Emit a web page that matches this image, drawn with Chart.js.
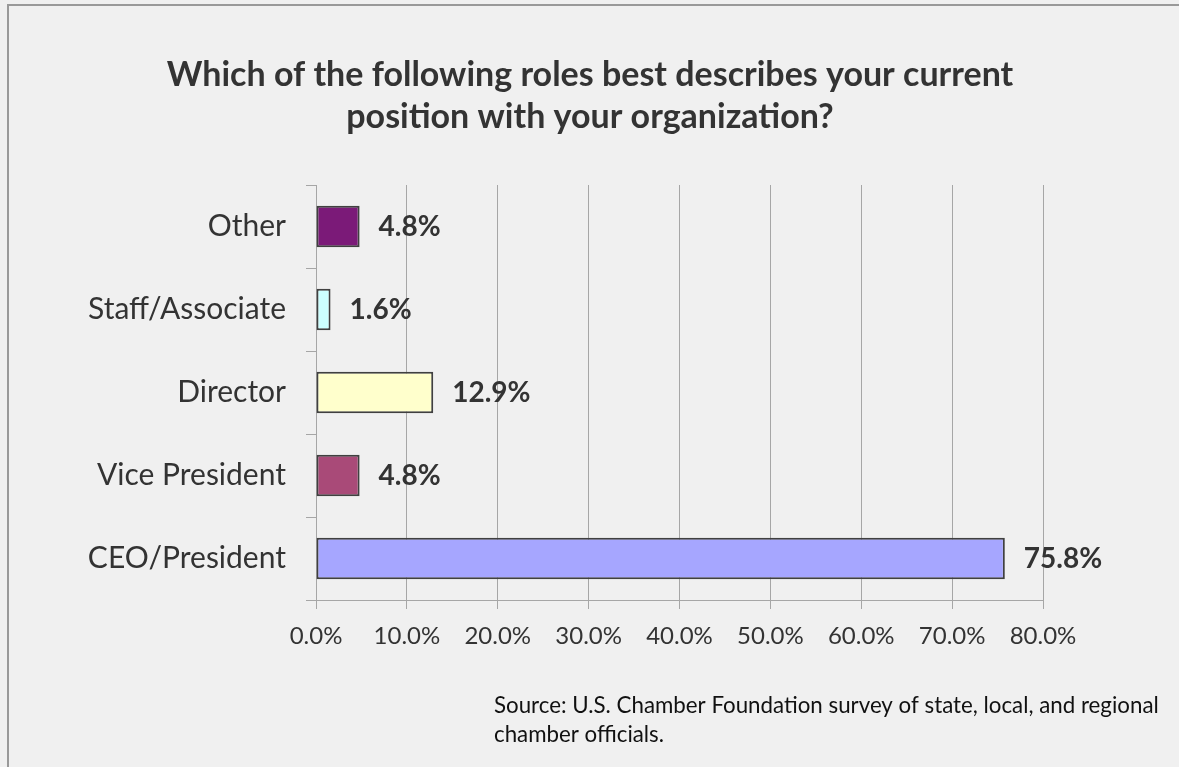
<!DOCTYPE html>
<html>
<head>
<meta charset="utf-8">
<script src="https://cdn.jsdelivr.net/npm/chart.js@4"></script>
<style>
  html, body { margin: 0; padding: 0; background: #f0f0f0; }
  #wrap { width: 1179px; height: 767px; position: relative; }
</style>
</head>
<body>
<div id="wrap"><canvas id="roles" width="1179" height="767"></canvas></div>
<script>
const roles = ['Other', 'Staff/Associate', 'Director', 'Vice President', 'CEO/President'];
const shares = [4.8, 1.6, 12.9, 4.8, 75.8];
const barColors = ['#7b1a78', '#ccffff', '#ffffcc', '#a94a78', '#a6a6ff'];
const axisTicks = [0, 10, 20, 30, 40, 50, 60, 70, 80];

const titleLines = ['Which of the following roles best describes your current',
                    'position with your organization?'];
const sourceLines = ['Source: U.S. Chamber Foundation survey of state, local, and regional',
                     'chamber officials.'];

const FONT = 'Lato, "Open Sans", sans-serif';

// background, frame, title, source note and value labels
const decor = {
  id: 'decor',
  beforeDraw(chart) {
    const c = chart.ctx;
    c.save();
    c.fillStyle = '#f0f0f0';
    c.fillRect(0, 0, chart.width, chart.height);
    c.strokeStyle = '#999999';
    c.lineWidth = 2;
    c.beginPath();
    c.moveTo(8, chart.height);
    c.lineTo(8, 5);
    c.lineTo(chart.width + 2, 5);
    c.stroke();
    c.restore();
  },
  afterDraw(chart) {
    const c = chart.ctx;
    c.save();
    c.fillStyle = '#333333';
    c.textAlign = 'center';
    c.textBaseline = 'middle';
    c.font = 'bold 34px ' + FONT;
    c.fillText(titleLines[0], 590, 75);
    c.fillText(titleLines[1], 590, 117);

    c.fillStyle = '#111111';
    c.textAlign = 'left';
    c.font = '22.3px ' + FONT;
    c.fillText(sourceLines[0], 494, 706);
    c.fillText(sourceLines[1], 494, 735);

    c.fillStyle = '#333333';
    c.font = 'bold 28px ' + FONT;
    const meta = chart.getDatasetMeta(0);
    meta.data.forEach((bar, i) => {
      c.fillText(shares[i].toFixed(1) + '%', bar.x + 19, bar.y);
    });
    c.restore();
  }
};

new Chart(document.getElementById('roles'), {
  type: 'bar',
  data: {
    labels: roles,
    datasets: [{
      data: shares,
      backgroundColor: barColors,
      borderColor: '#404040',
      borderWidth: 2,
      borderSkipped: false,
      barPercentage: 0.5,
      categoryPercentage: 1.0
    }]
  },
  options: {
    indexAxis: 'y',
    responsive: false,
    animation: false,
    layout: { padding: { top: 185, right: 136, left: 0, bottom: 0 } },
    plugins: { legend: { display: false }, tooltip: { enabled: false } },
    scales: {
      x: {
        min: 0,
        max: 80,
        afterBuildTicks(scale) {
          scale.ticks = axisTicks.map(v => ({ value: v }));
        },
        afterFit(scale) { scale.height = 167; },
        grid: { color: '#a6a6a6', lineWidth: 1, tickLength: 9, drawTicks: true },
        border: { display: true, color: '#a6a6a6', width: 1 },
        ticks: {
          color: '#333333',
          font: { family: FONT, size: 24 },
          padding: 13,
          callback: v => v.toFixed(1) + '%'
        }
      },
      y: {
        afterFit(scale) { scale.width = 316; },
        grid: { offset: true, drawOnChartArea: false, color: '#a6a6a6', tickLength: 10 },
        border: { display: true, color: '#a6a6a6', width: 1 },
        ticks: {
          color: '#333333',
          font: { family: FONT, size: 30 },
          padding: 20
        }
      }
    }
  },
  plugins: [decor]
});
</script>
</body>
</html>
